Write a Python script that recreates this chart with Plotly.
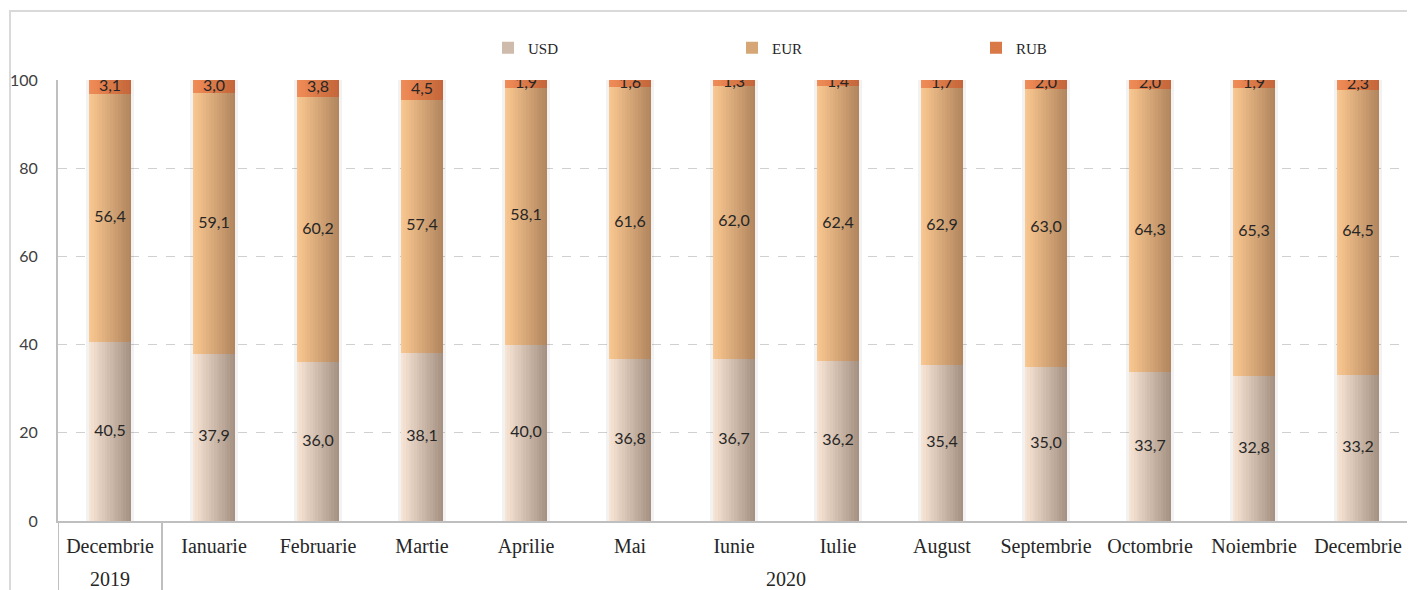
import numpy as np
import plotly.graph_objects as go

years = ["2019", "2020"]
year_span = [[0, 0], [1, 12]]  # index range of categories per year
months = ["Decembrie", "Ianuarie", "Februarie", "Martie", "Aprilie", "Mai", "Iunie",
          "Iulie", "August", "Septembrie", "Octombrie", "Noiembrie", "Decembrie"]
usd = [40.5, 37.9, 36.0, 38.1, 40.0, 36.8, 36.7, 36.2, 35.4, 35.0, 33.7, 32.8, 33.2]
eur = [56.4, 59.1, 60.2, 57.4, 58.1, 61.6, 62.0, 62.4, 62.9, 63.0, 64.3, 65.3, 64.5]
rub = [3.1, 3.0, 3.8, 4.5, 1.9, 1.6, 1.3, 1.4, 1.7, 2.0, 2.0, 1.9, 2.3]
series_names = ["USD", "EUR", "RUB"]
y_ticks = [0, 20, 40, 60, 80, 100]

xi = list(range(len(months)))
OFF = 8  # browser default body margin
W, H = 1415 - OFF, 590 - OFF
ML, MT = 58 - OFF, 80 - OFF
MR = W - (1410 - OFF)
MB = H - (521 - OFF)

grad = {
    "USD": ((247, 228, 212), (166, 146, 130)),
    "EUR": ((249, 199, 144), (178, 134, 94)),
    "RUB": ((240, 140, 86), (196, 102, 58)),
}

u = np.array(usd); e = np.array(eur); r = np.array(rub)
bases = {"USD": np.zeros_like(u), "EUR": u, "RUB": u + e}
vals = {"USD": u, "EUR": e, "RUB": r}

fig = go.Figure()

# soft shadow behind bars
fig.add_trace(go.Bar(x=xi, y=u + e + r, width=0.47, offset=-0.235,
                     marker=dict(color="rgba(0,0,0,0.05)", line=dict(width=0)),
                     showlegend=False, hoverinfo="skip"))

BW = 0.41
N = 16
step = BW / N
left = -BW / 2
for name in series_names:
    c0, c1 = grad[name]
    for i in range(N):
        t = i / (N - 1)
        col = tuple(int(round(c0[k] + (c1[k] - c0[k]) * t)) for k in range(3))
        fig.add_trace(go.Bar(
            x=xi, y=vals[name], base=bases[name],
            offset=left + i * step, width=(N - i) * step,
            marker=dict(color=f"rgb{col}", line=dict(width=0)),
            showlegend=False, hoverinfo="skip"))

# legend entries
for name in series_names:
    c0, c1 = grad[name]
    mid = tuple(int(round((c0[k] + c1[k]) / 2)) for k in range(3))
    fig.add_trace(go.Bar(x=xi, y=[None] * len(months), name=name,
                         marker=dict(color=f"rgb{mid}", line=dict(width=0))))

# data labels
for name in series_names:
    ypos = bases[name] + vals[name] / 2
    fig.add_trace(go.Scatter(
        x=xi, y=ypos, mode="text",
        text=[f"{v:.1f}".replace(".", ",") for v in vals[name]],
        textposition="middle center",
        textfont=dict(family="Lato, sans-serif", size=16, color="#262626"),
        showlegend=False, hoverinfo="skip"))

pw = W - ML - MR
ph = H - MT - MB
bottom = H - MB

# outer chart frame
fig.add_shape(type="rect", xref="paper", yref="paper",
              x0=((10 - OFF) - ML) / pw, x1=1.2, y0=-0.5, y1=(bottom - (11 - OFF)) / ph,
              line=dict(color="#d9d9d9", width=2), fillcolor="rgba(0,0,0,0)", layer="below")

# group dividers and year labels
for yr, (a, b) in zip(years, year_span):
    for xv in (a - 0.5, b + 0.5):
        fig.add_shape(type="line", xref="x", yref="paper", x0=xv, x1=xv,
                      y0=0, y1=-0.3, line=dict(color="#bfbfbf", width=2))
    fig.add_annotation(x=(a + b) / 2, xref="x", y=-((579 - OFF) - bottom) / ph, yref="paper",
                       text=yr, showarrow=False, yanchor="middle",
                       font=dict(family="Liberation Serif, serif", size=20, color="#262626"))

fig.update_layout(
    width=W, height=H,
    margin=dict(l=ML, r=MR, t=MT, b=MB, pad=0, autoexpand=False),
    barmode="overlay",
    plot_bgcolor="white", paper_bgcolor="white",
    font=dict(family="Liberation Serif, serif", size=16, color="#262626"),
    legend=dict(orientation="h", x=430 / pw, xanchor="left",
                y=(bottom - (48 - OFF)) / ph, yanchor="middle",
                entrywidth=199, entrywidthmode="pixels",
                font=dict(family="Liberation Serif, serif", size=15, color="#262626"),
                itemwidth=30, bgcolor="rgba(0,0,0,0)"),
    xaxis=dict(range=[-0.5, len(months) - 0.5], tickvals=xi, ticktext=months,
               showline=True, linecolor="#bfbfbf", linewidth=2,
               showgrid=False, ticks="", zeroline=False, automargin=False,
               ticklabelstandoff=6,
               tickfont=dict(family="Liberation Serif, serif", size=20, color="#262626")),
    yaxis=dict(range=[0, 100], tickvals=y_ticks, showline=True, linecolor="#bfbfbf",
               linewidth=2, gridcolor="#d0d0d0", griddash="dash", gridwidth=1,
               zeroline=False, ticks="", ticklabelstandoff=15, automargin=False,
               tickfont=dict(family="Lato, sans-serif", size=16, color="#404040")),
    bargap=0,
)

fig.write_html("out.html")
